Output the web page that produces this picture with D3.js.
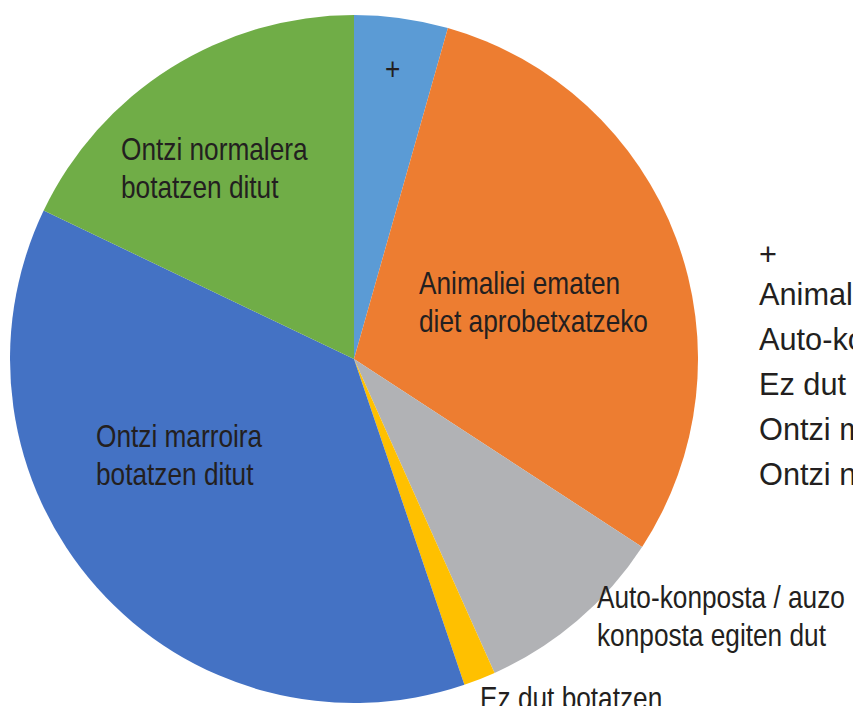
<!DOCTYPE html>
<html>
<head>
<meta charset="utf-8">
<script src="https://cdn.jsdelivr.net/npm/d3@7"></script>
<style>
  body { margin: 0; background: #fff; overflow: hidden; }
  text { font-family: "Liberation Sans", Arial, sans-serif; fill: #231f20; }
</style>
</head>
<body>
<script>
// slices, in drawing order (clockwise from 12 o'clock)
const categories = ["+", "Animaliei ematen diet aprobetxatzeko", "Auto-konposta / auzo konposta egiten dut",
    "Ez dut botatzen", "Ontzi marroira botatzen ditut", "Ontzi normalera botatzen ditut"];
const values = [4.4, 29.8, 9.1, 1.5, 37.3, 17.9];
const colors = ["#5b9bd5", "#ed7d31", "#b1b2b5", "#ffc000", "#4472c4", "#70ad47"];

// data label lines
const labelLines = [["+"], ["Animaliei ematen", "diet aprobetxatzeko"], ["Auto-konposta / auzo", "konposta egiten dut"],
    ["Ez dut botatzen"], ["Ontzi marroira", "botatzen ditut"], ["Ontzi normalera", "botatzen ditut"]];

const width = 853, height = 706;
const cx = 354, cy = 359, radius = 344;
const fontSize = 32;
const lineGap = 38;
// no condensed font installed, so squeeze the glyphs instead
const labelSqueeze = 0.82;
const legendSqueeze = 0.96;

// first baseline start of each label, relative to the pie centre
const labelSpots = [[31, -279], [65, -65], [243, 249], [126, 350], [-258, 88], [-233, -199]];

const svg = d3.select("body").append("svg")
    .attr("width", width).attr("height", height);

const pie = d3.pie().sort(null).value(d => d);
const arc = d3.arc().innerRadius(0).outerRadius(radius);

const g = svg.append("g").attr("transform", `translate(${cx},${cy})`);

g.selectAll("path")
    .data(pie(values))
    .join("path")
    .attr("d", arc)
    .attr("fill", (d, i) => colors[i]);

labelLines.forEach((lines, i) => {
    const t = g.append("text")
        .attr("transform", `translate(${labelSpots[i][0]},${labelSpots[i][1]}) scale(${labelSqueeze},1)`)
        .attr("font-size", fontSize);
    lines.forEach((line, j) => {
        t.append("tspan")
            .attr("x", 0)
            .attr("dy", j == 0 ? 0 : lineGap)
            .text(line);
    });
});

// legend, runs off the right edge like the original (no keys visible)
const legend = svg.append("g").attr("transform", "translate(759, 305)");
categories.forEach((name, i) => {
    legend.append("text")
        .attr("transform", `translate(0,${i == 0 ? -40 : 45 * (i - 1)}) scale(${legendSqueeze},1)`)
        .attr("font-size", fontSize)
        .text(name);
});
</script>
</body>
</html>
